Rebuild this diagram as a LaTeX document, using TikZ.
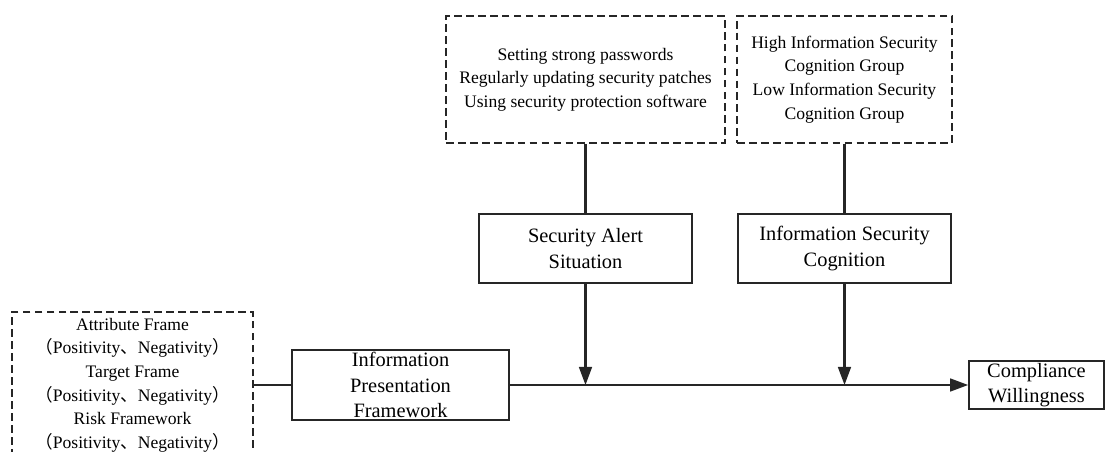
\documentclass[tikz,border=0pt]{standalone}
\usepackage{fontspec}
\setmainfont{Liberation Serif}
\newfontfamily\cjkf{Noto Sans CJK SC}
\usetikzlibrary{arrows.meta}
\newcommand\pn{{\cjkf （}Positivity{\cjkf 、}Negativity{\cjkf ）}}
\begin{document}
\begin{tikzpicture}[x=0.025cm,y=-0.025cm,
  line width=1.5pt, draw=black!85,
  dbox/.style={draw, dash pattern=on 5.5pt off 3pt, line width=1.2pt, inner sep=0pt, align=center, font=\fontsize{12.5}{16.8}\selectfont},
  sbox/.style={draw, line width=1.2pt, inner sep=0pt, align=center, font=\fontsize{14.5}{18}\selectfont},
  arr/.style={-{Triangle[length=0.45cm,width=0.32cm]}}]
\useasboundingbox (0,0) rectangle (1105,452);
\clip (0,0) rectangle (1105,452);
\node[dbox, minimum width=241*0.025cm, minimum height=146*0.025cm] (L) at (132.5,385)
  {Attribute Frame\\\pn\\Target Frame\\\pn\\Risk Framework\\\pn};
\node[sbox, minimum width=217*0.025cm, minimum height=70*0.025cm] (IPF) at (400.5,385)
  {Information\\Presentation\\Framework};
\node[sbox, minimum width=135*0.025cm, minimum height=48*0.025cm] (C) at (1036.5,385)
  {Compliance\\Willingness};
\node[sbox, minimum width=213*0.025cm, minimum height=69*0.025cm] (SAS) at (585.5,248.5)
  {Security Alert\\Situation};
\node[sbox, minimum width=213*0.025cm, minimum height=69*0.025cm] (ISC) at (844.5,248.5)
  {Information Security\\Cognition};
\node[dbox, minimum width=279*0.025cm, minimum height=127*0.025cm] (T1) at (585.5,79.5)
  {Setting strong passwords\\Regularly updating security patches\\Using security protection software};
\node[dbox, minimum width=215*0.025cm, minimum height=127*0.025cm] (T2) at (844.5,79.5)
  {High Information Security\\Cognition Group\\Low Information Security\\Cognition Group};
\coordinate (j1) at (SAS.south |- IPF.east);
\coordinate (j2) at (ISC.south |- IPF.east);
\draw (L.east) -- (IPF.west);
\draw[arr] (IPF.east) -- (C.west);
\draw (T1.south) -- (SAS.north);
\draw (T2.south) -- (ISC.north);
\draw[arr] (SAS.south) -- (j1);
\draw[arr] (ISC.south) -- (j2);
\end{tikzpicture}
\end{document}
